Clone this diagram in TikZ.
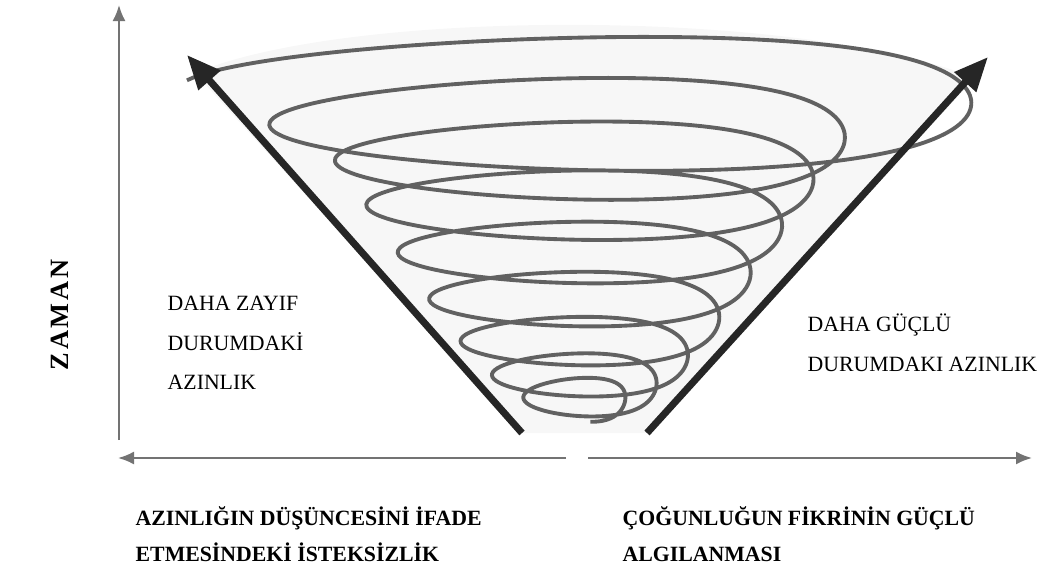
\documentclass[tikz,border=0pt]{standalone}
\usepackage{fontspec}
\setmainfont{Liberation Serif}
\newfontfamily\spacedserif[LetterSpace=10]{Liberation Serif}
\usepackage{tikz}
\usetikzlibrary{positioning,arrows.meta}
\tikzset{
    axis line/.style={draw=black!55, line width=0.6pt, -{Latex[length=1.6mm,width=1.3mm]}},
    trend arrow/.style={draw=black!85, line width=2pt, -{Triangle[length=3.4mm,width=2.8mm]}},
    coil/.style={draw=black!62, line width=1.1pt},
    side text/.style={font=\fontsize{6.2}{11.3}\selectfont, align=left, inner sep=0pt, anchor=west},
    base text/.style={font=\bfseries\fontsize{6.2}{10.2}\selectfont, align=left, inner sep=0pt, anchor=west},
    declare function={
        coilu(\s)=(\s-270)/3150;
        rimbump(\s)=min(1,max(0,(coilu(\s)-0.85)/0.09));
        hw(\s)=0.35+2.75*coilu(\s)+0.95*rimbump(\s)*rimbump(\s)*(3-2*rimbump(\s));
        rise(\s)=0.25*(1-cos(180*coilu(\s)))+0.5*coilu(\s)*sqrt(coilu(\s));
        yc(\s)=1.65+3.13*rise(\s);
        bh(\s)=0.12+0.2*hw(\s)-0.02*hw(\s)*hw(\s);
    }
}

\begin{document}
\begin{tikzpicture}
    \useasboundingbox (0,0) rectangle (10.45,5.68);

    \coordinate (yaxis bottom) at (1.19,1.28);
    \coordinate (yaxis top) at (1.19,5.63);
    \coordinate (xaxis left) at (1.18,1.10);
    \coordinate (xaxis midleft) at (5.66,1.10);
    \coordinate (xaxis midright) at (5.88,1.10);
    \coordinate (xaxis right) at (10.32,1.10);
    \coordinate (weak start) at (5.22,1.35);
    \coordinate (weak tip) at (1.87,5.13);
    \coordinate (strong start) at (6.47,1.35);
    \coordinate (strong tip) at (9.88,5.11);

    \fill[black!3] (weak start) -- (1.95,4.95) .. controls (3.5,5.6) and (8,5.6) .. (9.75,4.9) -- (strong start) -- cycle;

    \draw[coil] plot[domain=270:3410, samples=720, smooth, variable=\s]
        ({5.82+hw(\s)*(cos(\s)-0.12*cos(2*\s)+0.12)}, {yc(\s)+bh(\s)*sin(\s)});

    \draw[trend arrow] (weak start) -- (weak tip);
    \draw[trend arrow] (strong start) -- (strong tip);

    \draw[axis line] (yaxis bottom) -- (yaxis top);
    \draw[axis line] (xaxis midleft) -- (xaxis left);
    \draw[axis line] (xaxis midright) -- (xaxis right);

    \node[rotate=90, font=\spacedserif\bfseries\fontsize{7.5}{9}\selectfont] (time) at (0.60,2.53) {ZAMAN};

    \node[side text] (weak) at (1.67,2.25) {DAHA ZAYIF\\DURUMDAKİ\\AZINLIK};
    \node[side text] (strong) at (8.07,2.25) {DAHA GÜÇLÜ\\DURUMDAKI AZINLIK};

    \node[base text] (reluctance) at (1.35,0.34) {AZINLIĞIN DÜŞÜNCESİNİ İFADE\\ETMESİNDEKİ İSTEKSİZLİK};
    \node[base text] (majority) at (6.22,0.34) {ÇOĞUNLUĞUN FİKRİNİN GÜÇLÜ\\ALGILANMASI};
\end{tikzpicture}
\end{document}
